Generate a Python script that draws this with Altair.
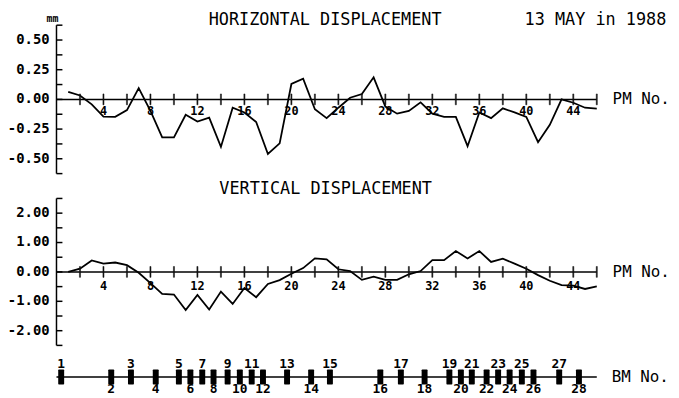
import altair as alt
import pandas as pd

# ---------------- data ----------------
pm = list(range(1, 47))
horiz = [0.063, 0.033, -0.042, -0.145, -0.147, -0.09, 0.095, -0.097, -0.32, -0.32,
         -0.13, -0.186, -0.153, -0.40, -0.07, -0.11, -0.19, -0.46, -0.37, 0.13,
         0.175, -0.083, -0.158, -0.07, 0.014, 0.045, 0.186, -0.06, -0.12, -0.097,
         -0.025, -0.12, -0.147, -0.147, -0.394, -0.11, -0.158, -0.075, -0.11, -0.147,
         -0.36, -0.214, 0.0, -0.028, -0.07, -0.078]
vert = [0.0, 0.11, 0.39, 0.28, 0.32, 0.23, -0.03, -0.38, -0.75, -0.77,
        -1.30, -0.78, -1.28, -0.67, -1.09, -0.55, -0.86, -0.41, -0.28, -0.06,
        0.13, 0.46, 0.43, 0.09, 0.03, -0.27, -0.16, -0.27, -0.27, -0.08,
        0.03, 0.40, 0.40, 0.71, 0.46, 0.71, 0.34, 0.45, 0.28, 0.11,
        -0.11, -0.30, -0.45, -0.47, -0.58, -0.49]
bm_no = list(range(1, 29))
bm_pos = [0.40, 4.66, 6.34, 8.45, 10.42, 11.40, 12.41, 13.37, 14.57, 15.61,
          16.62, 17.58, 19.63, 21.68, 23.28, 27.57, 29.32, 31.34, 33.45, 34.43,
          35.36, 36.62, 37.60, 38.58, 39.62, 40.61, 42.80, 44.48]

h_ticks = [-0.625, -0.5, -0.375, -0.25, -0.125, 0.0, 0.125, 0.25, 0.375, 0.5, 0.625]
h_label_vals = [0.5, 0.25, 0.0, -0.25, -0.5]
h_label_txt = ["0.50", "0.25", "0.00", "-0.25", "-0.50"]
v_ticks = [-2.5, -2.0, -1.5, -1.0, -0.5, 0.0, 0.5, 1.0, 1.5, 2.0, 2.5]
v_label_vals = [2.0, 1.0, 0.0, -1.0, -2.0]
v_label_txt = ["2.00", "1.00", "0.00", "-1.00", "-2.00"]
pm_ticks = list(range(2, 47, 2))
pm_labels = list(range(4, 45, 4))

FONT = "DejaVu Sans Mono"
XS = alt.Scale(domain=[0, 46], nice=False, zero=False)
YH = alt.Scale(domain=[-0.625, 0.625], range=[165.3, 15.3], nice=False, zero=False)
YV = alt.Scale(domain=[-2.5, 2.5], range=[338.9, 190.4], nice=False, zero=False)
YB = alt.Scale(domain=[-1, 1], range=[385.8, 355.8], nice=False, zero=False)

BMRECT = "M-0.3,-1L0.3,-1Q0.4,-1 0.4,-0.9L0.4,0.9Q0.4,1 0.3,1L-0.3,1Q-0.4,1 -0.4,0.9L-0.4,-0.9Q-0.4,-1 -0.3,-1Z"
VBAR = "M-0.1,-1L0.1,-1L0.1,1L-0.1,1Z"


def X(f):
    return alt.X(f, scale=XS, axis=None)


def Y(f, s):
    return alt.Y(f, scale=s, axis=None)


def panel(values, ys, ticks, lab_vals, lab_txt, xdy):
    layers = []
    layers.append(alt.Chart(pd.DataFrame({"a": [ticks[0]], "b": [ticks[-1]]}))
                  .mark_rule(color="black", strokeWidth=1.5)
                  .encode(x=alt.value(0), y=Y("a:Q", ys), y2="b:Q"))
    layers.append(alt.Chart(pd.DataFrame({"t": ticks}))
                  .mark_rule(color="black", strokeWidth=1.5)
                  .encode(x=alt.value(0), x2=alt.value(6), y=Y("t:Q", ys)))
    layers.append(alt.Chart(pd.DataFrame({"t": lab_vals, "s": lab_txt}))
                  .mark_text(align="right", baseline="middle", font=FONT,
                             fontWeight="bold", fontSize=14, dx=-7, color="black")
                  .encode(x=alt.value(0), y=Y("t:Q", ys), text="s:N"))
    layers.append(alt.Chart(pd.DataFrame({"a": [0], "b": [46], "z": [0]}))
                  .mark_rule(color="black", strokeWidth=1.5)
                  .encode(x=X("a:Q"), x2="b:Q", y=Y("z:Q", ys)))
    layers.append(alt.Chart(pd.DataFrame({"p": pm_labels, "z": [0] * len(pm_labels)}))
                  .mark_text(align="center", baseline="middle", font=FONT,
                             fontWeight="bold", fontSize=12, dy=xdy, color="black")
                  .encode(x=X("p:Q"), y=Y("z:Q", ys), text="p:Q"))
    layers.append(alt.Chart(pd.DataFrame({"z": [0]}))
                  .mark_text(align="left", baseline="middle", font=FONT,
                             fontSize=16, text="PM No.", color="black")
                  .encode(x=alt.value(562), y=Y("z:Q", ys)))
    layers.append(alt.Chart(pd.DataFrame({"pm": pm, "v": values}))
                  .mark_line(color="black", strokeWidth=1.8)
                  .encode(x=X("pm:Q"), y=Y("v:Q", ys)))
    return layers


def ticklayer(ys, tag):
    df = pd.DataFrame({"tp": [float(p) for p in pm_ticks],
                       "tz": [0.0] * len(pm_ticks),
                       "tg": [tag] * len(pm_ticks)})
    return (alt.Chart(df)
            .mark_point(shape=VBAR, size=121, filled=True, fill="#111111",
                        stroke="#111111", strokeWidth=0.5, opacity=1)
            .encode(x=X("tp:Q"), y=Y("tz:Q", ys)))


def label(txt, x, y, size=17, align="center", weight="normal"):
    return (alt.Chart(pd.DataFrame({"a": [0]}))
            .mark_text(text=txt, align=align, baseline="middle", font=FONT,
                       fontSize=size, fontWeight=weight, color="black")
            .encode(x=alt.value(x), y=alt.value(y)))


layers = []
layers += panel(horiz, YH, h_ticks, h_label_vals, h_label_txt, 12)
layers += panel(vert, YV, v_ticks, v_label_vals, v_label_txt, 14)

layers.append(alt.Chart(pd.DataFrame({"a": [0], "b": [46], "z": [0]}))
              .mark_rule(color="black", strokeWidth=1.5)
              .encode(x=X("a:Q"), x2="b:Q", y=Y("z:Q", YB)))
bm_df = pd.DataFrame({"p": bm_pos, "n": bm_no, "z": [0] * len(bm_no)})
layers.append(alt.Chart(bm_df)
              .mark_point(shape=BMRECT, size=225, filled=True, color="black", opacity=1)
              .encode(x=X("p:Q"), y=Y("z:Q", YB)))
layers.append(alt.Chart(bm_df).transform_filter("datum.n % 2 == 1")
              .mark_text(align="center", baseline="middle", font=FONT, fontWeight="bold",
                         fontSize=13, dy=-13, color="black")
              .encode(x=X("p:Q"), y=Y("z:Q", YB), text="n:Q"))
layers.append(alt.Chart(bm_df).transform_filter("datum.n % 2 == 0")
              .mark_text(align="center", baseline="middle", font=FONT, fontWeight="bold",
                         fontSize=13, dy=12, color="black")
              .encode(x=X("p:Q"), y=Y("z:Q", YB), text="n:Q"))
layers.append(alt.Chart(pd.DataFrame({"z": [0]}))
              .mark_text(align="left", baseline="middle", font=FONT,
                         fontSize=16, text="BM No.", color="black")
              .encode(x=alt.value(561), y=Y("z:Q", YB)))

layers.append(label("HORIZONTAL DISPLACEMENT", 271.5, 10, size=17))
layers.append(label("13 MAY in 1988", 473, 10, size=17, align="left"))
layers.append(label("VERTICAL DISPLACEMENT", 272, 180.5, size=17))
layers.append(label("mm", -4, 9.5, size=10, weight="bold"))

# crossing ticks on the PM axes
layers.append(ticklayer(YH, "h"))
layers.append(ticklayer(YV, "v"))

chart = (alt.layer(*layers)
         .resolve_scale(y="independent")
         .properties(width=546, height=390,
                     autosize=alt.AutoSizeParams(type="none"),
                     padding={"left": 49, "right": 75, "top": 0, "bottom": 0},
                     background="white")
         .configure_view(stroke=None))

chart.save("out.html", embed_options={"renderer": "svg", "actions": False})
